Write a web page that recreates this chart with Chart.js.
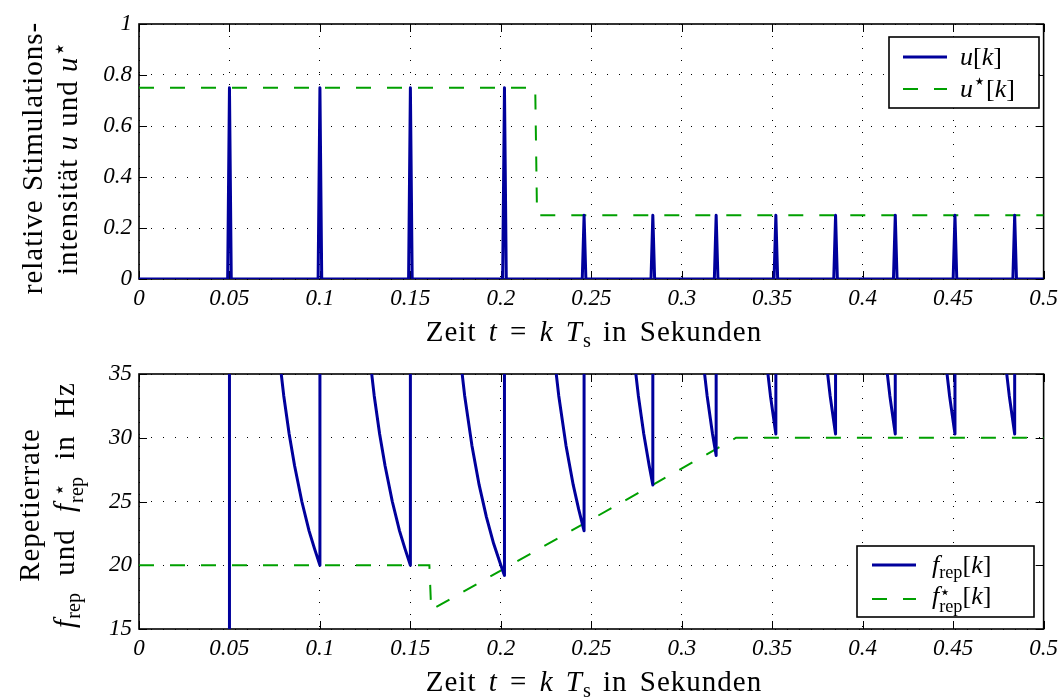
<!DOCTYPE html>
<html>
<head>
<meta charset="utf-8">
<script src="https://cdn.jsdelivr.net/npm/chart.js@4.4.1/dist/chart.umd.min.js"></script>
<style>
  body { margin: 0; background: #fff; }
  #wrap { position: relative; width: 1064px; height: 697px; overflow: hidden; font-family: "Liberation Serif", "Times New Roman", Times, "DejaVu Serif", serif; color: #000; }
  canvas { position: absolute; left: 0; }
  #c1 { top: 0; }
  #c2 { top: 345px; }
  .xt { position: absolute; white-space: nowrap; font-size: 29px; line-height: 1; letter-spacing: 1px; word-spacing: 4px; transform: translateX(-50%); }
  .yt { position: absolute; width: 340px; height: 70px; text-align: center; font-size: 29px; line-height: 35px; letter-spacing: 1px; white-space: nowrap; transform: rotate(-90deg); }
  .wide { word-spacing: 9px; }
  .leg { position: absolute; font-size: 26px; line-height: 1; white-space: nowrap; transform: translateY(-50%); }
  sub { font-size: 0.7em; vertical-align: -0.28em; line-height: 0; letter-spacing: 0; }
  sup { font-size: 0.8em; vertical-align: 0.45em; line-height: 0; }
  .star { font-family: "DejaVu Sans", sans-serif; }
  .ss { display: inline-block; vertical-align: -0.45em; font-size: 0.7em; line-height: 0.85em; letter-spacing: 0; }
  .ss span { display: block; }
</style>
</head>
<body>
<div id="wrap">
  <canvas id="c1" width="1064" height="345"></canvas>
  <canvas id="c2" width="1064" height="352"></canvas>

  <div class="yt" style="left:-120px; top:123px;">relative Stimulations-<br>intensität <i>u</i> und <i>u</i><sup class="star">⋆</sup></div>
  <div class="xt" style="left:594px; top:317px;">Zeit <i>t</i> = <i>k</i> <i>T</i><sub>s</sub> in Sekunden</div>
  <div class="leg" style="left:960px; top:57px;"><i>u</i>[<i>k</i>]</div>
  <div class="leg" style="left:960px; top:89px;"><i>u</i><sup class="star">⋆</sup>[<i>k</i>]</div>

  <div class="yt" style="left:-123px; top:470px;">Repetierrate<br><span class="wide"><i>f</i><sub>rep</sub> und <i>f</i><span class="ss"><span class="star">⋆</span><span>rep</span></span> in Hz</span></div>
  <div class="xt" style="left:594px; top:667px;">Zeit <i>t</i> = <i>k</i> <i>T</i><sub>s</sub> in Sekunden</div>
  <div class="leg" style="left:932px; top:565px;"><i>f</i><sub>rep</sub>[<i>k</i>]</div>
  <div class="leg" style="left:932px; top:599px;"><i>f</i><span class="ss"><span class="star">⋆</span><span>rep</span></span>[<i>k</i>]</div>
</div>

<script>
// pulse times (s) and relative intensity of each pulse
const pulseT = [0.05, 0.1, 0.15, 0.202, 0.246, 0.284, 0.319, 0.352, 0.385, 0.418, 0.451, 0.484];
const pulseU = [0.75, 0.75, 0.75, 0.75, 0.25, 0.25, 0.25, 0.25, 0.25, 0.25, 0.25, 0.25];
const sampleT = 0.001;

// reference intensity u*[k]
const uStarT = [0, 0.219, 0.22, 0.5];
const uStarV = [0.75, 0.75, 0.25, 0.25];

// repetition rate f_rep[k] (Hz)
const fRepT = [0, 0.05, 0.05,
  0.074, 0.077, 0.08, 0.083, 0.086, 0.09, 0.094, 0.097, 0.1, 0.1,
  0.124, 0.127, 0.13, 0.133, 0.136, 0.14, 0.144, 0.147, 0.15, 0.15,
  0.174, 0.177, 0.18, 0.184, 0.188, 0.192, 0.196, 0.2, 0.202, 0.202,
  0.226, 0.229, 0.232, 0.236, 0.24, 0.243, 0.246, 0.246,
  0.27, 0.273, 0.276, 0.279, 0.282, 0.284, 0.284,
  0.308, 0.311, 0.314, 0.317, 0.319, 0.319,
  0.343, 0.346, 0.349, 0.352, 0.352,
  0.376, 0.379, 0.382, 0.385, 0.385,
  0.409, 0.412, 0.415, 0.418, 0.418,
  0.442, 0.445, 0.448, 0.451, 0.451,
  0.475, 0.478, 0.481, 0.484, 0.484, 0.5];
const fRepV = [0, 0, 200,
  41.7, 37, 33.3, 30.3, 27.8, 25, 22.7, 21.3, 20, 200,
  41.7, 37, 33.3, 30.3, 27.8, 25, 22.7, 21.3, 20, 200,
  41.7, 37, 33.3, 29.4, 26.3, 23.8, 21.7, 20, 19.2, 200,
  41.7, 37, 33.3, 29.4, 26.3, 24.4, 22.7, 200,
  41.7, 37, 33.3, 30.3, 27.8, 26.3, 200,
  41.7, 37, 33.3, 30.3, 28.6, 200,
  41.7, 37, 33.3, 30.3, 200,
  41.7, 37, 33.3, 30.3, 200,
  41.7, 37, 33.3, 30.3, 200,
  41.7, 37, 33.3, 30.3, 200,
  41.7, 37, 33.3, 30.3, 200, 62.5];

// reference repetition rate f*_rep[k]
const fStarT = [0, 0.1605, 0.1615, 0.33, 0.5];
const fStarV = [20, 20, 16.5, 30, 30];

const xTicks = { min: 0, max: 0.5, step: 0.05 };

const BLUE = '#00009c';
const GREEN = '#00a000';
const tickFont = { family: '"Liberation Serif", "Times New Roman", Times, "DejaVu Serif", serif', style: 'italic', size: 23 };

function pts(xs, ys) { return xs.map((x, i) => ({ x: x, y: ys[i] })); }

// spikes: zero, pulse value at its sample, zero again
const uPts = [{ x: 0, y: 0 }];
pulseT.forEach((t, i) => {
  uPts.push({ x: t - sampleT, y: 0 }, { x: t, y: pulseU[i] }, { x: t + sampleT, y: 0 });
});
uPts.push({ x: 0.5, y: 0 });

// box, inward tick marks and matlab-like legend frame
const boxPlugin = {
  id: 'mbox',
  beforeDatasetsDraw(chart) {
    const { ctx, chartArea: a, scales: { x, y } } = chart;
    ctx.save();
    ctx.strokeStyle = '#000';
    ctx.lineWidth = 1;
    ctx.beginPath();
    x.ticks.forEach(t => {
      const px = Math.round(x.getPixelForValue(t.value)) + 0.5;
      ctx.moveTo(px, a.bottom); ctx.lineTo(px, a.bottom - 8);
      ctx.moveTo(px, a.top); ctx.lineTo(px, a.top + 8);
    });
    y.ticks.forEach(t => {
      const py = Math.round(y.getPixelForValue(t.value)) + 0.5;
      ctx.moveTo(a.left, py); ctx.lineTo(a.left + 8, py);
      ctx.moveTo(a.right, py); ctx.lineTo(a.right - 8, py);
    });
    ctx.stroke();
    ctx.lineWidth = 1.6;
    ctx.strokeRect(a.left, a.top, a.right - a.left, a.bottom - a.top);
    ctx.restore();
  },
  afterDatasetsDraw(chart, args, opts) {
    if (!opts.box) return;
    const { ctx } = chart;
    const b = opts.box;
    ctx.save();
    ctx.fillStyle = '#fff';
    ctx.fillRect(b.x, b.y, b.w, b.h);
    ctx.strokeStyle = '#000';
    ctx.lineWidth = 1.6;
    ctx.strokeRect(b.x, b.y, b.w, b.h);
    chart.data.datasets.forEach((ds, i) => {
      const yy = b.rows[i];
      ctx.strokeStyle = ds.borderColor;
      ctx.lineWidth = ds.borderWidth;
      ctx.setLineDash(ds.borderDash || []);
      ctx.beginPath();
      ctx.moveTo(b.lineX, yy);
      ctx.lineTo(b.lineX + 44, yy);
      ctx.stroke();
    });
    ctx.restore();
  }
};

function makeChart(id, datasets, yOpts, padTop, xHeight, legendBox) {
  return new Chart(document.getElementById(id), {
    type: 'line',
    data: { datasets: datasets },
    options: {
      responsive: false,
      animation: false,
      events: [],
      devicePixelRatio: 1,
      layout: { padding: { top: padTop, right: 16, left: 0, bottom: 0 } },
      elements: { point: { radius: 0 }, line: { tension: 0 } },
      plugins: { legend: { display: false }, tooltip: { enabled: false }, mbox: { box: legendBox } },
      scales: {
        x: {
          type: 'linear', min: xTicks.min, max: xTicks.max,
          afterFit: s => { s.height = xHeight; },
          grid: { color: '#000', lineWidth: 1, drawTicks: false },
          border: { display: false, dash: [1, 11] },
          ticks: {
            stepSize: xTicks.step, autoSkip: false, maxRotation: 0, padding: 6,
            color: '#000', font: tickFont,
            callback: v => String(parseFloat(v.toFixed(2)))
          }
        },
        y: {
          min: yOpts.min, max: yOpts.max,
          afterFit: s => { s.width = 139; },
          grid: { color: '#000', lineWidth: 1, drawTicks: false },
          border: { display: false, dash: [1, 11] },
          ticks: {
            stepSize: yOpts.step, autoSkip: false, padding: 7,
            color: '#000', font: tickFont,
            callback: v => String(parseFloat(v.toFixed(2)))
          }
        }
      }
    },
    plugins: [boxPlugin]
  });
}

makeChart('c1', [
  { label: 'u[k]', data: uPts, borderColor: BLUE, borderWidth: 3, borderJoinStyle: 'round' },
  { label: 'u*[k]', data: pts(uStarT, uStarV), borderColor: GREEN, borderWidth: 2, borderDash: [15, 16] }
], { min: 0, max: 1, step: 0.2 }, 24, 66,
  { x: 889, y: 37, w: 150, h: 71, lineX: 903, rows: [57, 89] });

makeChart('c2', [
  { label: 'f_rep[k]', data: pts(fRepT, fRepV), borderColor: BLUE, borderWidth: 3, borderJoinStyle: 'round' },
  { label: 'f*_rep[k]', data: pts(fStarT, fStarV), borderColor: GREEN, borderWidth: 2, borderDash: [15, 16] }
], { min: 15, max: 35, step: 5 }, 29, 68,
  { x: 857, y: 201, w: 177, h: 71, lineX: 872, rows: [220, 254] });
</script>
</body>
</html>
